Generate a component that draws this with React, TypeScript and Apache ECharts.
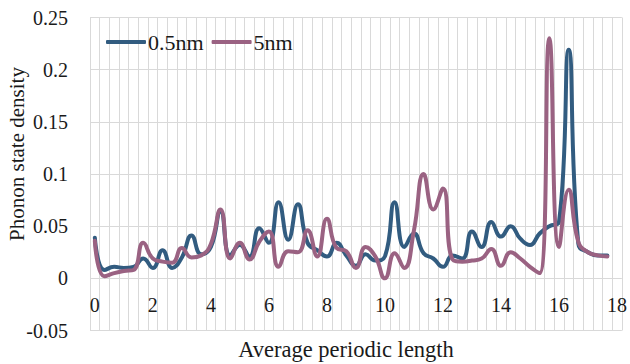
import React, { useEffect, useRef } from "react";
import * as echarts from "echarts";

const xCategories = [
  "0", "0.33", "0.67", "1", "1.33", "1.67", "2", "2.33", "2.67", "3",
  "3.33", "3.67", "4", "4.33", "4.67", "5", "5.33", "5.67", "6", "6.33",
  "6.67", "7", "7.33", "7.67", "8", "8.33", "8.67", "9", "9.33", "9.67",
  "10", "10.33", "10.67", "11", "11.33", "11.67", "12", "12.33", "12.67", "13",
  "13.33", "13.67", "14", "14.33", "14.67", "15", "15.33", "15.67", "16", "16.33",
  "16.67", "17", "17.33", "17.67", "18",
];

const series05nm = [
  0.039, 0.008, 0.011, 0.010, 0.011, 0.019, 0.010, 0.027, 0.010, 0.020,
  0.041, 0.023, 0.030, 0.064, 0.022, 0.032, 0.021, 0.048, 0.034, 0.073,
  0.037, 0.071, 0.034, 0.027, 0.021, 0.034, 0.022, 0.012, 0.023, 0.017,
  0.021, 0.073, 0.030, 0.043, 0.024, 0.019, 0.011, 0.022, 0.019, 0.045,
  0.030, 0.054, 0.040, 0.050, 0.038, 0.032, 0.043, 0.050, 0.054, 0.219,
  0.033, 0.025, 0.022, 0.022,
];

const series5nm = [
  0.036, 0.002, 0.005, 0.007, 0.008, 0.034, 0.019, 0.016, 0.015, 0.029,
  0.020, 0.022, 0.033, 0.066, 0.019, 0.034, 0.018, 0.035, 0.045, 0.011,
  0.026, 0.025, 0.046, 0.021, 0.057, 0.029, 0.026, 0.010, 0.030, 0.021,
  0.000, 0.024, 0.010, 0.046, 0.100, 0.066, 0.086, 0.018, 0.016, 0.017,
  0.019, 0.028, 0.012, 0.025, 0.019, 0.011, 0.005, 0.230, 0.030, 0.085,
  0.035, 0.025, 0.022, 0.021,
];

const seriesNames = ["0.5nm", "5nm"];
const yMin = -0.05;
const yMax = 0.25;
const yStep = 0.05;

const FONT = "Liberation Serif";
const GRID = "#d9d9d9";
const BLUE = "#325c80";
const PINK = "#9a6282";
const TEXT = "#1a1a1a";

export default function App() {
  const ref = useRef<HTMLDivElement>(null);
  useEffect(() => {
    const chart = echarts.init(ref.current!, null, { renderer: "svg" });
    chart.setOption({
      animation: false,
      textStyle: { fontFamily: FONT },
      grid: { left: 90, right: 6, top: 17.5, bottom: 33.5, containLabel: false },
      legend: {
        left: 101,
        top: 25,
        itemWidth: 40,
        itemHeight: 4,
        itemGap: 8,
        icon: "roundRect",
        textStyle: { fontFamily: FONT, fontSize: 22, color: TEXT, lineHeight: 24, padding: [0, 0, 0, -3] },
        data: seriesNames,
      },
      xAxis: {
        type: "category",
        data: xCategories,
        boundaryGap: true,
        offset: -52.2,
        axisLine: { show: false, onZero: false },
        axisTick: { show: false },
        axisLabel: {
          interval: 5,
          margin: 17,
          fontFamily: FONT,
          fontSize: 20,
          color: TEXT,
          formatter: (v: string) => String(Math.round(parseFloat(v))),
        },
        splitLine: { show: true, interval: 0, lineStyle: { color: GRID, width: 1 } },
      },
      yAxis: {
        type: "value",
        min: yMin,
        max: yMax,
        interval: yStep,
        axisLine: { show: true, lineStyle: { color: GRID, width: 1 } },
        axisTick: { show: false },
        axisLabel: {
          margin: 22,
          fontFamily: FONT,
          fontSize: 20,
          color: TEXT,
          formatter: (v: number) => String(Math.round(v * 100) / 100),
        },
        splitLine: { show: true, lineStyle: { color: GRID, width: 1 } },
      },
      graphic: [
        {
          type: "text",
          x: 17,
          y: 154,
          rotation: Math.PI / 2,
          style: {
            text: "Phonon state density",
            fontFamily: FONT,
            fontSize: 21,
            fill: TEXT,
            align: "center",
            verticalAlign: "middle",
          },
        },
        {
          type: "text",
          x: 346,
          y: 349,
          style: {
            text: "Average periodic length",
            fontFamily: FONT,
            fontSize: 22.5,
            fill: TEXT,
            align: "center",
            verticalAlign: "middle",
          },
        },
      ],
      series: [
        {
          name: seriesNames[0],
          type: "line",
          data: series05nm,
          smooth: 0.5,
          showSymbol: false,
          symbol: "none",
          color: BLUE,
          lineStyle: { color: BLUE, width: 4, cap: "round", join: "round" },
        },
        {
          name: seriesNames[1],
          type: "line",
          data: series5nm,
          smooth: 0.5,
          showSymbol: false,
          symbol: "none",
          color: PINK,
          lineStyle: { color: PINK, width: 4, cap: "round", join: "round" },
        },
      ],
    });
    return () => chart.dispose();
  }, []);
  return (
    <div
      ref={ref}
      style={{ position: "fixed", left: 0, top: 0, width: 630, height: 364, background: "#fff" }}
    />
  );
}
